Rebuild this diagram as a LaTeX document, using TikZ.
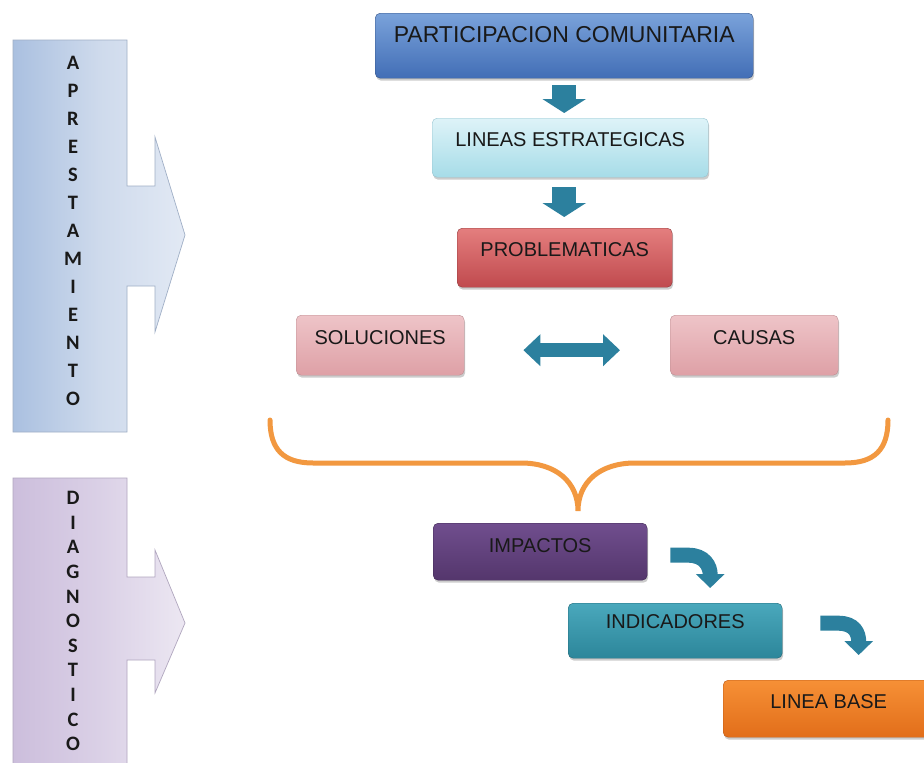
\documentclass[tikz,border=0pt]{standalone}
\usepackage{fontspec}
\setmainfont{Liberation Sans}
\newfontfamily\letterfont{Carlito}
\usepackage{tikz}
\usetikzlibrary{arrows.meta,shadows}

\definecolor{apresL}{RGB}{170,192,224}
\definecolor{apresM}{RGB}{206,218,236}
\definecolor{apresR}{RGB}{226,233,244}
\definecolor{apresB}{RGB}{160,175,198}
\definecolor{diagL}{RGB}{204,190,220}
\definecolor{diagM}{RGB}{218,208,230}
\definecolor{diagR}{RGB}{236,231,242}
\definecolor{diagB}{RGB}{176,166,190}
\definecolor{partT}{RGB}{122,162,218}
\definecolor{partD}{RGB}{66,110,182}
\definecolor{partB}{RGB}{52,82,132}
\definecolor{lineT}{RGB}{222,243,248}
\definecolor{lineD}{RGB}{166,220,232}
\definecolor{lineB}{RGB}{150,196,208}
\definecolor{probT}{RGB}{228,126,126}
\definecolor{probD}{RGB}{192,74,78}
\definecolor{probB}{RGB}{146,58,60}
\definecolor{pinkT}{RGB}{238,196,200}
\definecolor{pinkD}{RGB}{222,160,166}
\definecolor{pinkB}{RGB}{188,142,146}
\definecolor{impT}{RGB}{112,78,142}
\definecolor{impD}{RGB}{84,54,108}
\definecolor{impB}{RGB}{62,40,82}
\definecolor{indT}{RGB}{74,168,188}
\definecolor{indD}{RGB}{44,134,154}
\definecolor{indB}{RGB}{34,104,120}
\definecolor{baseT}{RGB}{246,144,54}
\definecolor{baseD}{RGB}{226,110,26}
\definecolor{baseB}{RGB}{188,88,20}
\definecolor{flecha}{RGB}{44,128,158}
\definecolor{llave}{RGB}{242,152,64}

\begin{document}
\begin{tikzpicture}[x=1pt,y=-1pt,
    letra/.style={font=\letterfont\bfseries\fontsize{20.5}{20.5}\selectfont,text=black!90,inner sep=0pt},
    flechabaja/.style={draw=flecha,line width=24pt,-{Triangle[length=14pt,width=43pt]}},
    flechadoble/.style={draw=flecha,line width=14pt,{Triangle[length=17pt,width=31pt]}-{Triangle[length=17pt,width=31pt]}},
    flechacurva/.style={draw=flecha,line width=15pt,-{Triangle[length=14pt,width=28pt]}}]
\fill[white] (0,0) rectangle (924,763);
\useasboundingbox (0,0) rectangle (924,763);

% flechas de la izquierda
\path[draw=apresB,line width=0.7pt,left color=apresL,right color=apresR,middle color=apresM]
    (13,40) -- (127,40) -- (127,186) -- (155,186) -- (155,137) -- (185,235) -- (155,332)
    -- (155,286) -- (127,286) -- (127,432) -- (13,432) -- cycle;
\path[draw=diagB,line width=0.7pt,left color=diagL,right color=diagR,middle color=diagM]
    (13,478) -- (127,478) -- (127,577) -- (155,577) -- (155,550) -- (185,623) -- (155,693)
    -- (155,660) -- (127,660) -- (127,770) -- (13,770) -- cycle;
\foreach \ch [count=\i from 0] in {A,P,R,E,S,T,A,M,I,E,N,T,O}
    \node[letra] (ap\i) at (73,63+28*\i) {\ch};
\foreach \ch [count=\i from 0] in {D,I,A,G,N,O,S,T,I,C,O}
    \node[letra] (dg\i) at (73,498+24.6*\i) {\ch};

% cajas
\begin{scope}[every node/.style={rounded corners=5pt,anchor=north west,inner sep=0pt,
                                 text=black!90,font=\fontsize{20}{24}\selectfont,
                                 text height=28pt,text depth=31pt,
                                 drop shadow={opacity=.4,shadow xshift=1pt,shadow yshift=-2.5pt}}]
    \node[minimum width=378pt,text height=29pt,text depth=36pt,font=\fontsize{23}{26}\selectfont,
          top color=partT,bottom color=partD,draw=partB] (part) at (375,13) {PARTICIPACION COMUNITARIA};
    \node[minimum width=276pt,top color=lineT,bottom color=lineD,draw=lineB] (lineas) at (432,118) {LINEAS ESTRATEGICAS};
    \node[minimum width=215pt,top color=probT,bottom color=probD,draw=probB] (prob) at (457,228) {PROBLEMATICAS};
    \node[minimum width=168pt,text height=29pt,top color=pinkT,bottom color=pinkD,draw=pinkB] (sol) at (296,315) {SOLUCIONES};
    \node[minimum width=168pt,text height=29pt,top color=pinkT,bottom color=pinkD,draw=pinkB] (causas) at (670,315) {CAUSAS};
    \node[minimum width=214pt,text height=29pt,text depth=28pt,top color=impT,bottom color=impD,draw=impB] (imp) at (433,523) {IMPACTOS};
    \node[minimum width=214pt,text height=25pt,text depth=30pt,top color=indT,bottom color=indD,draw=indB] (ind) at (568,603) {INDICADORES};
    \node[minimum width=211pt,text height=28pt,text depth=29pt,top color=baseT,bottom color=baseD,draw=baseB] (base) at (723,680) {LINEA BASE};
\end{scope}

% flechas
\draw[flechabaja,shorten <=7pt,shorten >=5pt] (part.south) -- (part.south |- lineas.north);
\draw[flechabaja,shorten <=10pt,shorten >=11pt] (part.south |- lineas.south) -- (part.south |- prob.north);
\draw[flechadoble,shorten <=59pt,shorten >=50pt] ([yshift=-5pt]sol.east) -- ([yshift=-5pt]causas.west);
\draw[flechacurva] ([xshift=23pt,yshift=-3.5pt]imp.east) -- ++(18,0)
    .. controls +(16,0) and +(0,-22) .. ([xshift=35pt,yshift=15pt]ind.north);
\draw[flechacurva] ([xshift=38pt,yshift=7.5pt]ind.east) -- ++(18,0)
    .. controls +(16,0) and +(0,-22) .. ([xshift=30pt,yshift=25pt]base.north);

% llave
\draw[llave,line width=5pt,line cap=round] (270,420) .. controls (270,450) and (284,463) .. (313,463)
    -- (521,463) .. controls (556,463) and (578,482) .. (578,511)
    .. controls (578,482) and (600,463) .. (635,463) -- (845,463)
    .. controls (874,463) and (888,450) .. (888,420);
\end{tikzpicture}
\end{document}
